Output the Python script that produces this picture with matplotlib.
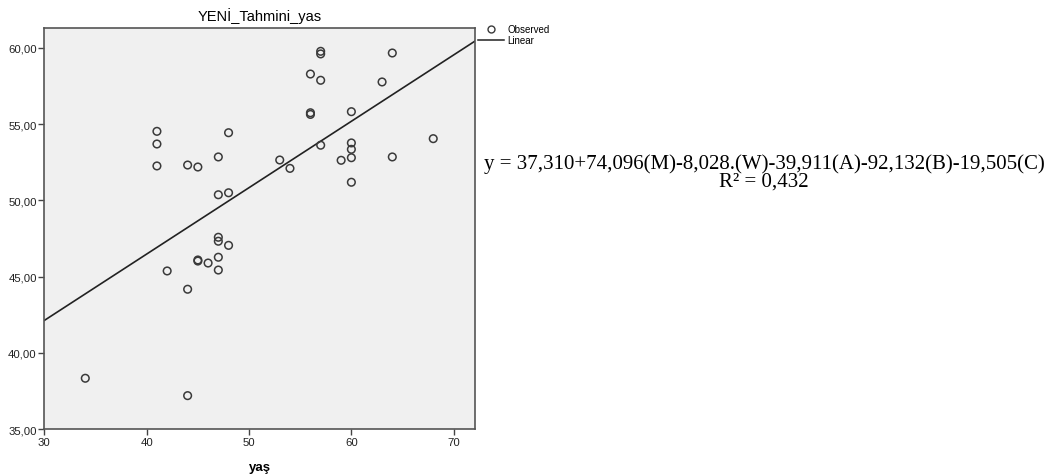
import numpy as np
from matplotlib import pyplot as plt
from matplotlib.lines import Line2D
from matplotlib.ticker import FuncFormatter

# age (yas) vs predicted age (YENI_Tahmini_yas)
yas = [34, 41, 41, 41, 42, 44, 44, 44, 45, 45, 45, 46,
       47, 47, 47, 47, 47, 47, 48, 48, 48, 53, 54,
       56, 56, 56, 57, 57, 57, 57, 59,
       60, 60, 60, 60, 60, 63, 64, 64, 68]
tahmini = [38.33, 54.53, 53.70, 52.26, 45.37, 52.32, 44.17, 37.19, 52.19, 46.09, 46.02, 45.89,
           52.85, 50.37, 47.58, 47.32, 46.27, 45.43, 54.44, 50.50, 47.05, 52.65, 52.10,
           58.29, 55.75, 55.64, 59.78, 59.61, 57.88, 53.62, 52.63,
           55.82, 53.77, 53.35, 52.80, 51.19, 57.77, 59.67, 52.85, 54.05]

xticks = [30, 40, 50, 60, 70]
yticks = [35, 40, 45, 50, 55, 60]
equation = 'y = 37,310+74,096(M)-8,028.(W)-39,911(A)-92,132(B)-19,505(C)'
r2_text = 'R² = 0,432'

plt.rcParams['font.family'] = ['Liberation Sans', 'DejaVu Sans']

fig = plt.figure(figsize=(10.56, 4.77), dpi=100)
ax = fig.add_axes([0.042, 0.0985, 0.408, 0.8407])
ax.set_facecolor('#f0f0f0')

x = np.array(yas, dtype=float)
y = np.array(tahmini)
ax.scatter(x, y, s=30, facecolors='none', edgecolors='#3a3a3a', linewidths=1.1, zorder=3)

xlim = (30, 72.1)
ylim = (35, 61.31)
slope, icpt = np.polyfit(x, y, 1)
xl = np.array(xlim)
ax.plot(xl, icpt + slope * xl, color='#222222', lw=1.2, zorder=2)

ax.set_xlim(*xlim)
ax.set_ylim(*ylim)
ax.set_xticks(xticks)
ax.set_yticks(yticks)
ax.yaxis.set_major_formatter(FuncFormatter(lambda v, p: f'{v:.2f}'.replace('.', ',')))
ax.tick_params(labelsize=8.2, length=4, width=1, color='#444444', pad=1.5, labelcolor='#222222')
for s in ax.spines.values():
    s.set_color('#555555')
    s.set_linewidth(1.2)

ax.set_xlabel('yaş', fontsize=9.5, fontweight='bold', labelpad=10)
ax.set_title('YENİ_Tahmini_yas', fontsize=10.5, pad=6)

handles = [Line2D([], [], ls='none', marker='o', mfc='none', mec='#3a3a3a', ms=5),
           Line2D([], [], color='#222222', lw=1.1)]
fig.legend(handles, ['Observed', 'Linear'], loc='upper left', bbox_to_anchor=(0.449, 0.955),
           frameon=False, fontsize=7, handlelength=2.7, handletextpad=0.35,
           labelspacing=0.1, borderaxespad=0)

fig.text(0.7235, 1 - 187 / 477, equation + '\n' + r2_text, ha='center', va='baseline',
         multialignment='center', fontsize=15, family='Liberation Serif', linespacing=0.95)

fig.savefig('out.png', dpi=100)
